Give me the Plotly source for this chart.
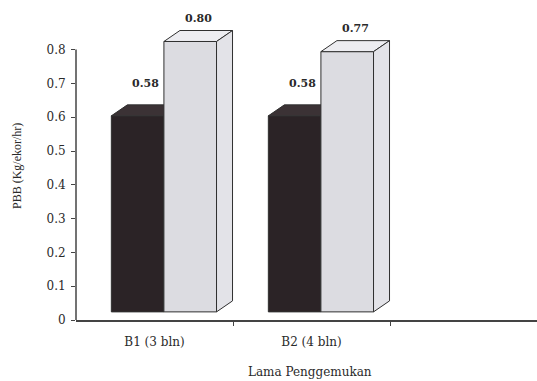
import plotly.graph_objects as go

# Data
categories = ["B1 (3 bln)", "B2 (4 bln)"]
series_dark = [0.58, 0.58]
series_light = [0.80, 0.77]
y_tick_values = [0, 0.1, 0.2, 0.3, 0.4, 0.5, 0.6, 0.7, 0.8]
y_tick_labels = ["0", "0.1", "0.2", "0.3", "0.4", "0.5", "0.6", "0.7", "0.8"]

# Pseudo-3D column geometry (axis units)
BAR_W = 0.335      # width of one column face
SPLIT = 0.56       # where the two columns of a group meet, from category start
DEPTH_X = 0.102    # horizontal depth offset
DEPTH_Y = 0.0325   # vertical depth offset
FLOOR = 0.024      # lift of the column bases above the axis line

FONT = "DejaVu Serif"
FONT_V = "Liberation Serif"
INK = "#2a2a2a"
EDGE = "#303030"

DARK_FRONT = "#2b2326"
DARK_TOP = "#3b3235"
LIGHT_FRONT = "#dcdce1"
LIGHT_TOP = "#ededf1"
LIGHT_SIDE = "#e3e3e8"


def poly(pts, fill):
    xs = [p[0] for p in pts] + [pts[0][0]]
    ys = [p[1] for p in pts] + [pts[0][1]]
    return go.Scatter(x=xs, y=ys, mode="lines", fill="toself",
                      fillcolor=fill, line=dict(color=EDGE, width=1),
                      hoverinfo="skip", showlegend=False)


def column(x0, value, front, top, side):
    x1 = x0 + BAR_W
    yb, yt = FLOOR, FLOOR + value
    return [
        poly([(x0, yb), (x1, yb), (x1, yt), (x0, yt)], front),
        poly([(x0, yt), (x0 + DEPTH_X, yt + DEPTH_Y),
              (x1 + DEPTH_X, yt + DEPTH_Y), (x1, yt)], top),
        poly([(x1, yb), (x1 + DEPTH_X, yb + DEPTH_Y),
              (x1 + DEPTH_X, yt + DEPTH_Y), (x1, yt)], side),
    ]


W, H = 537, 381
ML, MR, MT, MB = 76, 0, 20, 61
pw, ph = W - ML - MR, H - MT - MB

fig = go.Figure()
annotations = []
for i, cat in enumerate(categories):
    xd = i + SPLIT - BAR_W
    xl = i + SPLIT
    for tr in column(xd, series_dark[i], DARK_FRONT, DARK_TOP, DARK_FRONT):
        fig.add_trace(tr)
    for tr in column(xl, series_light[i], LIGHT_FRONT, LIGHT_TOP, LIGHT_SIDE):
        fig.add_trace(tr)
    for x0, v, shift in ((xd, series_dark[i], 13), (xl, series_light[i], 4)):
        annotations.append(dict(
            x=x0 + (BAR_W + DEPTH_X) / 2, y=FLOOR + v + DEPTH_Y,
            xref="x", yref="y", text=f"<b>{v:.2f}</b>", showarrow=False,
            yanchor="bottom", yshift=shift,
            font=dict(family=FONT, size=11, color=INK)))

# axis titles, positioned in pixels and converted to paper units
annotations.append(dict(
    x=(310 - ML) / pw, y=(H - MB - 372) / ph, xref="paper", yref="paper",
    text="Lama Penggemukan", showarrow=False,
    yanchor="middle", xanchor="center",
    font=dict(family=FONT, size=12, color=INK)))
annotations.append(dict(
    x=(17 - ML) / pw, y=(H - MB - 166) / ph, xref="paper", yref="paper",
    text="PBB (Kg/ekor/hr)", showarrow=False, textangle=-90,
    xanchor="center", yanchor="middle",
    font=dict(family=FONT_V, size=12, color=INK)))

fig.update_layout(
    width=W, height=H,
    margin=dict(l=ML, r=MR, t=MT, b=MB),
    paper_bgcolor="white", plot_bgcolor="white",
    showlegend=False,
    annotations=annotations,
    shapes=[dict(type="line", xref="paper", yref="y", x0=0, x1=0,
                 y0=0, y1=0.8, line=dict(color="#444444", width=1.5))],
    xaxis=dict(
        range=[0, pw / 157.0], showgrid=False, zeroline=False,
        showline=True, linecolor="#444444", linewidth=1.5,
        tickvals=[0.5, 1.5], ticktext=categories, ticks="",
        ticklabelstandoff=10,
        tickfont=dict(family=FONT, size=12, color=INK),
        minor=dict(tickvals=[1, 2], ticks="outside", ticklen=4,
                   tickcolor="#444444", tickwidth=1),
        fixedrange=True,
    ),
    yaxis=dict(
        range=[0, ph / 338.0], showgrid=False, zeroline=False,
        showline=False, tickvals=y_tick_values, ticktext=y_tick_labels,
        ticks="outside", ticklen=4, tickcolor="#444444", tickwidth=1,
        ticklabelstandoff=3,
        tickfont=dict(family=FONT, size=12, color=INK),
        fixedrange=True,
    ),
)

fig.write_html("out.html")
